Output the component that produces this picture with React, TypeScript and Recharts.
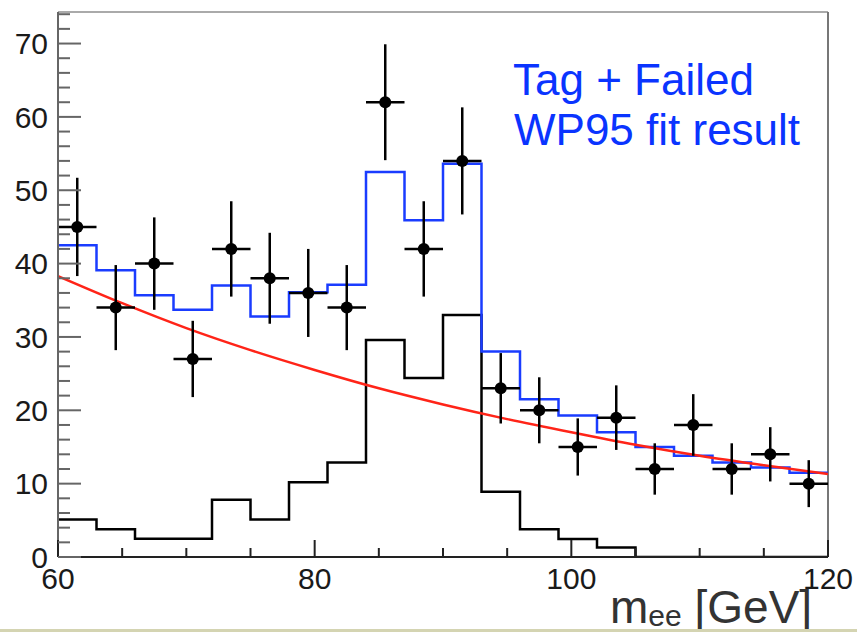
import { ComposedChart, Line, Scatter, ErrorBar, XAxis, YAxis, ReferenceLine } from "recharts";

// 3 GeV bins from 60 to 120
const binEdges = [60, 63, 66, 69, 72, 75, 78, 81, 84, 87, 90, 93, 96, 99, 102, 105, 108, 111, 114, 117, 120];

// data counts and their errors
const dataCounts = [45, 34, 40, 27, 42, 38, 36, 34, 62, 42, 54, 23, 20, 15, 19, 12, 18, 12, 14, 10];
const dataErrors = [6.7, 5.8, 6.3, 5.2, 6.5, 6.2, 6.0, 5.8, 7.9, 6.5, 7.3, 4.8, 4.5, 3.9, 4.4, 3.5, 4.2, 3.5, 3.7, 3.2];

// total fit (signal + background), blue
const fitTotal = [42.5, 39.1, 35.7, 33.7, 37.0, 32.8, 36.1, 37.1, 52.5, 45.9, 53.6, 28.0, 21.5, 19.3, 17.0, 15.0, 13.8, 12.9, 12.2, 11.5];

// signal shape, black
const signal = [5.1, 3.8, 2.5, 2.5, 7.8, 5.1, 10.2, 12.9, 29.6, 24.4, 33.0, 8.9, 3.8, 2.45, 1.3, 0, 0, 0, 0, 0];

// background fit curve, red
const bkgX = [60, 65, 70, 75, 80, 85, 90, 95, 100, 105, 110, 115, 120];
const bkgY = [38.3, 34.6, 31.2, 28.2, 25.5, 23.0, 20.8, 18.8, 17.0, 15.3, 13.8, 12.5, 11.3];

const yTicks = [0, 2, 4, 6, 8, 10, 12, 14, 16, 18, 20, 22, 24, 26, 28, 30, 32, 34, 36, 38, 40, 42, 44, 46, 48, 50, 52, 54, 56, 58, 60, 62, 64, 66, 68, 70, 72, 74];
const xTicks = [60, 65, 70, 75, 80, 85, 90, 95, 100, 105, 110, 115, 120];

const FONT = "'Liberation Sans', Arial, Helvetica, sans-serif";
const Y_MAX = 74.3;

// step series: value of each bin at its low edge, last value repeated at the top edge
const toSteps = (vals: number[]) =>
  binEdges.map((x, i) => ({ x, v: vals[Math.min(i, vals.length - 1)] }));

const points = dataCounts.map((y, i) => ({
  x: (binEdges[i] + binEdges[i + 1]) / 2,
  y,
  ex: (binEdges[i + 1] - binEdges[i]) / 2,
  ey: dataErrors[i],
}));

const bkg = bkgX.map((x, i) => ({ x, v: bkgY[i] }));

const YTick = (props: any) => {
  const { x, y, payload } = props;
  const v = payload.value;
  const major = v % 10 === 0;
  return (
    <g>
      <line x1={x} x2={x + (major ? 23 : 12)} y1={y} y2={y} stroke="#666" strokeWidth={2} />
      {major && (
        <text x={x - 10} y={y} dy={10.7} textAnchor="end" fontSize={30} fontFamily={FONT} fill="#1a1a1a">
          {v}
        </text>
      )}
    </g>
  );
};

const XTick = (props: any) => {
  const { x, y, payload } = props;
  const v = payload.value;
  const major = v % 20 === 0;
  return (
    <g>
      <line x1={x} x2={x} y1={y} y2={y - (major ? 17 : 9)} stroke="#222" strokeWidth={2} />
      {major && (
        <text x={x} y={y + 31.5} textAnchor="middle" fontSize={30} fontFamily={FONT} fill="#1a1a1a">
          {v}
        </text>
      )}
    </g>
  );
};

const Dot = (p: any) => <circle cx={p.cx} cy={p.cy} r={6} fill="#000" />;

export default function App() {
  return (
    <div style={{ position: "absolute", left: 0, top: 0, width: 857, height: 632, background: "#fff", overflow: "hidden" }}>
      <ComposedChart width={857} height={632} margin={{ top: 12, right: 29, bottom: 0, left: 0 }}>
        <XAxis
          dataKey="x"
          type="number"
          domain={[60, 120]}
          ticks={xTicks}
          tick={<XTick />}
          tickSize={0}
          tickMargin={0}
          height={75}
          stroke="#222"
          strokeWidth={2}
          allowDataOverflow
        />
        <YAxis
          type="number"
          domain={[0, Y_MAX]}
          ticks={yTicks}
          tick={<YTick />}
          tickSize={0}
          tickMargin={0}
          width={58}
          stroke="#666"
          strokeWidth={2}
          interval={0}
          allowDataOverflow
        />
        <ReferenceLine y={Y_MAX} stroke="#aaa" strokeWidth={2} />
        <ReferenceLine x={120} stroke="#777" strokeWidth={2} />
        <Line
          data={toSteps(signal)}
          dataKey="v"
          type="stepAfter"
          stroke="#000"
          strokeWidth={2.5}
          dot={false}
          isAnimationActive={false}
        />
        <Line
          data={toSteps(fitTotal)}
          dataKey="v"
          type="stepAfter"
          stroke="#1a3cff"
          strokeWidth={2.5}
          dot={false}
          isAnimationActive={false}
        />
        <Line
          data={bkg}
          dataKey="v"
          type="monotone"
          stroke="#ff2418"
          strokeWidth={2.5}
          dot={false}
          isAnimationActive={false}
        />
        <Scatter data={points} dataKey="y" shape={<Dot />} isAnimationActive={false}>
          <ErrorBar dataKey="ex" direction="x" width={0} stroke="#000" strokeWidth={2.5} />
          <ErrorBar dataKey="ey" direction="y" width={0} stroke="#000" strokeWidth={2.5} />
        </Scatter>
      </ComposedChart>
      <svg width={857} height={632} style={{ position: "absolute", left: 0, top: 0, pointerEvents: "none" }}>
        <text x={513} y={95} fontSize={44} fontFamily={FONT} fill="#0a34ff">Tag + Failed</text>
        <text x={514} y={145} fontSize={44} fontFamily={FONT} fill="#0a34ff">WP95 fit result</text>
        <text x={610} y={623} fontSize={46} fontFamily={FONT} fill="#333">
          m<tspan fontSize={30} dy={3}>ee</tspan>
          <tspan dy={-3}> [GeV]</tspan>
        </text>
      </svg>
      <div style={{ position: "absolute", left: 0, top: 629, width: 857, height: 3, background: "#d4d4b2" }} />
    </div>
  );
}
